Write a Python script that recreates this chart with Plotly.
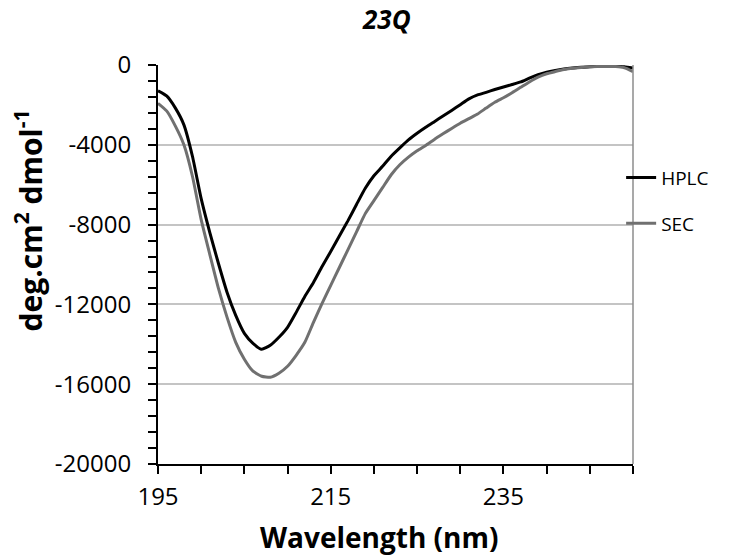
import plotly.graph_objects as go

# ---- data ----
wavelength = list(range(195, 251))
hplc = [-1290, -1550, -2150, -3000, -4600, -6700, -8400, -9950, -11400, -12550,
        -13450, -13950, -14250, -14050, -13650, -13150, -12400, -11600, -10900, -10100,
        -9350, -8570, -7800, -6980, -6180, -5550, -5080, -4570, -4150, -3750,
        -3420, -3120, -2840, -2560, -2280, -1990, -1700, -1500, -1370, -1230,
        -1100, -980, -850, -660, -490, -360, -270, -200, -150, -110,
        -90, -70, -60, -60, -90, -150]
sec = [-1920, -2300, -3050, -4000, -5600, -7750, -9500, -11200, -12650, -13900,
       -14750, -15350, -15600, -15650, -15450, -15100, -14550, -13900, -12900, -11950,
       -11050, -10150, -9250, -8350, -7450, -6800, -6150, -5500, -5000, -4620,
       -4300, -4030, -3730, -3450, -3180, -2920, -2690, -2460, -2160, -1870,
       -1640, -1390, -1120, -850, -610, -440, -330, -230, -160, -120,
       -90, -80, -70, -80, -140, -330]
series_names = ["HPLC", "SEC"]
y_tickvals = [0, -4000, -8000, -12000, -16000, -20000]
y_ticktext = ["0", "-4000", "-8000", "-12000", "-16000", "-20000"]
x_tickvals = [195, 215, 235]
x_ticktext = ["195", "215", "235"]

FONT = "Open Sans"

fig = go.Figure()
fig.add_trace(go.Scatter(x=wavelength, y=hplc, name=series_names[0], mode="lines",
                         legendgroup="a",
                         line=dict(color="#000000", width=3, shape="spline", smoothing=0.5)))
fig.add_trace(go.Scatter(x=wavelength, y=sec, name=series_names[1], mode="lines",
                         legendgroup="b",
                         line=dict(color="#707070", width=3, shape="spline", smoothing=0.5)))

# the page body adds an 8px margin, so the figure is 742x552 and shifted accordingly
fig.update_layout(
    width=742, height=552,
    margin=dict(l=150, r=117, t=57, b=96, autoexpand=False),
    paper_bgcolor="white", plot_bgcolor="white",
    font=dict(family=FONT, color="#000000", size=22),
    showlegend=True,
    legend=dict(x=0.975, xanchor="left", y=0.765, yanchor="top",
                font=dict(size=19, family=FONT), itemwidth=30,
                tracegroupgap=18, traceorder="grouped",
                bgcolor="rgba(0,0,0,0)"),
    xaxis=dict(range=[195, 250], tickvals=x_tickvals, ticktext=x_ticktext,
               ticks="outside", ticklen=8, automargin=False,
               tickwidth=2, tickcolor="#000", showline=True, linecolor="#000",
               linewidth=2, showgrid=False, zeroline=False,
               tickfont=dict(size=24, family=FONT), ticklabelstandoff=2,
               minor=dict(dtick=5, tick0=195, ticks="outside", ticklen=8,
                          tickwidth=2, tickcolor="#000", showgrid=False)),
    yaxis=dict(range=[-20000, 0], tickvals=y_tickvals, ticktext=y_ticktext,
               ticks="outside", ticklen=8, automargin=False,
               tickwidth=2, tickcolor="#000", showline=True, linecolor="#000",
               linewidth=2, showgrid=True, gridcolor="#c4c4c4", gridwidth=1.5,
               zeroline=False, tickfont=dict(size=24, family=FONT), ticklabelstandoff=12,
               minor=dict(dtick=800, tick0=0, ticks="outside", ticklen=8,
                          tickwidth=2, tickcolor="#000", showgrid=False)),
    shapes=[dict(type="line", xref="paper", yref="paper", x0=1, x1=1, y0=0, y1=1,
                 line=dict(color="#8c8c8c", width=1.5))],
    annotations=[
        dict(text="<b><i>23Q</i></b>", xref="paper", yref="paper",
             x=0.482, y=1.115, xanchor="center", yanchor="middle", showarrow=False,
             font=dict(size=26, family=FONT)),
        dict(text="<b>Wavelength (nm)</b>", xref="paper", yref="paper",
             x=0.465, y=-0.183, xanchor="center", yanchor="middle", showarrow=False,
             font=dict(size=28, family=FONT)),
        dict(text="<b>deg.cm<sup>2</sup> dmol<sup>-1</sup></b>", xref="paper", yref="paper",
             x=-0.272, y=0.61, xanchor="center", yanchor="middle", showarrow=False,
             textangle=-90, font=dict(size=30, family=FONT)),
    ],
)

fig.write_html("out.html")
